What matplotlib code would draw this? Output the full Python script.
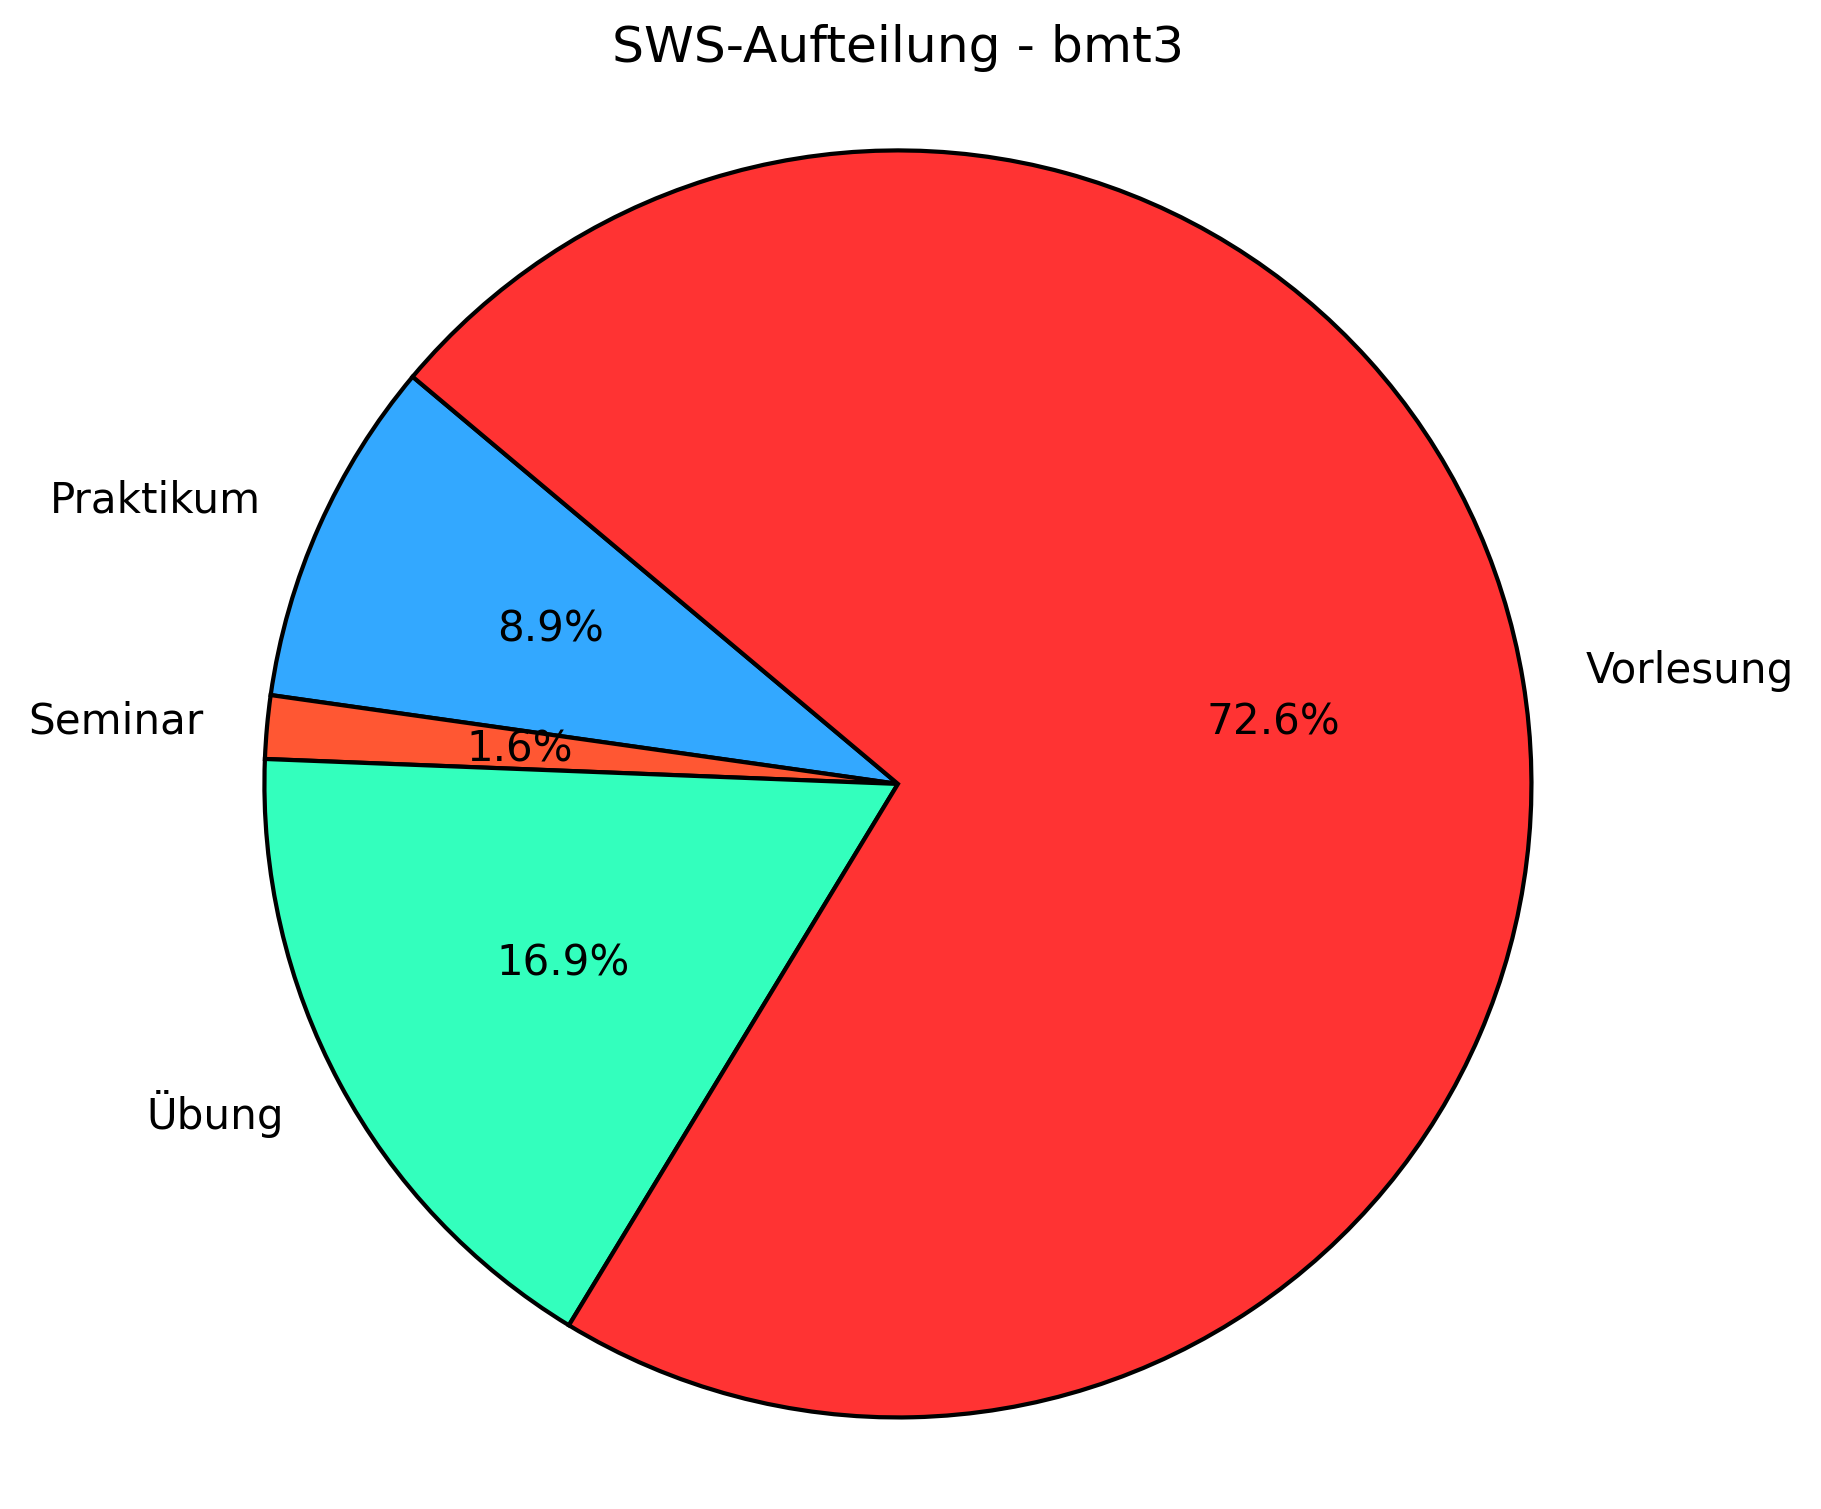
import matplotlib
matplotlib.use("Agg")
import matplotlib.pyplot as plt

labels = ["Praktikum", "Seminar", "Übung", "Vorlesung"]
sws = [11, 2, 21, 90]
colors = ["#33A8FF", "#FF5733", "#33FFBD", "#FF3333"]

DPI = 263
W, H = 1821, 1509
fig = plt.figure(figsize=(W / DPI, H / DPI), dpi=DPI)
ax = fig.add_axes([0.1104, 0.0187, 0.7654, 0.9236])
ax.pie(sws, labels=labels, colors=colors, autopct="%1.1f%%", startangle=140,
       wedgeprops={"edgecolor": "black", "linewidth": 1.15},
       textprops={"fontsize": 11.5})
ax.set_xlim(-1.1, 1.1)
ax.set_ylim(-1.1, 1.1)
ax.set_aspect("equal")
ax.set_title("SWS-Aufteilung - bmt3", fontsize=13.8, pad=6.9)
fig.savefig("out.png", dpi=DPI)
